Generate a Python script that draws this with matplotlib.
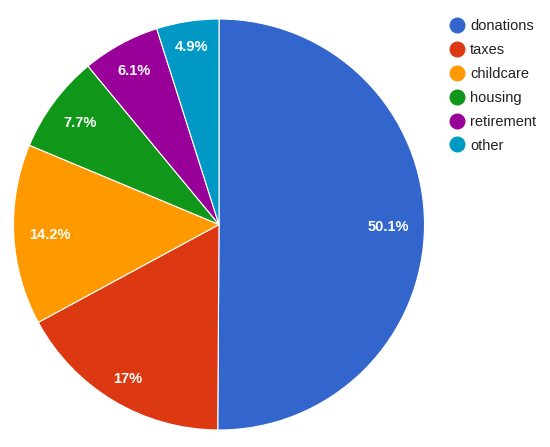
import numpy as np
import matplotlib
matplotlib.use('Agg')
import matplotlib.pyplot as plt
from matplotlib.lines import Line2D

plt.rcParams['font.family'] = ['Liberation Sans', 'DejaVu Sans']

categories = ['donations', 'taxes', 'childcare', 'housing', 'retirement', 'other']
shares = [50.1, 17.0, 14.2, 7.7, 6.1, 4.9]
share_labels = ['50.1%', '17%', '14.2%', '7.7%', '6.1%', '4.9%']
colors = ['#3366cc', '#dc3912', '#ff9900', '#109618', '#990099', '#0099c6']

W, H = 550, 447
fig = plt.figure(figsize=(W / 100, H / 100), dpi=100)

# pie centre (219, 224.5) px from top-left, radius 205.5 px
cx, cy, r = 219, 224.5, 205.5
ax = fig.add_axes([(cx - r) / W, (H - cy - r) / H, 2 * r / W, 2 * r / H])

wedges, _ = ax.pie(shares, colors=colors, startangle=90, counterclock=False,
                   radius=1, wedgeprops=dict(edgecolor='white', linewidth=0.8))
ax.set_xlim(-1, 1)
ax.set_ylim(-1, 1)
ax.set_aspect('equal')
ax.axis('off')

# labels: push along the mid angle until the far corner of the text box
# sits at a fixed fraction of the radius (google charts style)
fig.canvas.draw()
renderer = fig.canvas.get_renderer()
px_per_unit = r
corner_r = 0.925
for w, lab in zip(wedges, share_labels):
    t = ax.text(0, 0, lab, color='white', fontsize=10.5, fontweight='bold',
                ha='center', va='center')
    bb = t.get_window_extent(renderer)
    hw = bb.width / 2 / px_per_unit
    hh = bb.height / 2 / px_per_unit * 0.75
    ang = np.deg2rad((w.theta1 + w.theta2) / 2)
    ux, uy = np.cos(ang), np.sin(ang)
    b = hw * abs(ux) + hh * abs(uy)
    c = hw ** 2 + hh ** 2 - corner_r ** 2
    d = -b + np.sqrt(b * b - c)
    t.set_position((d * ux, d * uy - 0.01))

handles = [Line2D([], [], linestyle='none', marker='o', markersize=10.5,
                  markerfacecolor=c, markeredgecolor=c) for c in colors]
fig.legend(handles, categories, loc='upper left',
           bbox_to_anchor=(449.7 / W, 1 - 19 / H), frameon=False,
           fontsize=10.5, handlelength=1.0, handletextpad=0.4,
           labelspacing=0.68, borderpad=0, borderaxespad=0,
           labelcolor='#222222')

fig.savefig('out.png', dpi=100, facecolor='white')
